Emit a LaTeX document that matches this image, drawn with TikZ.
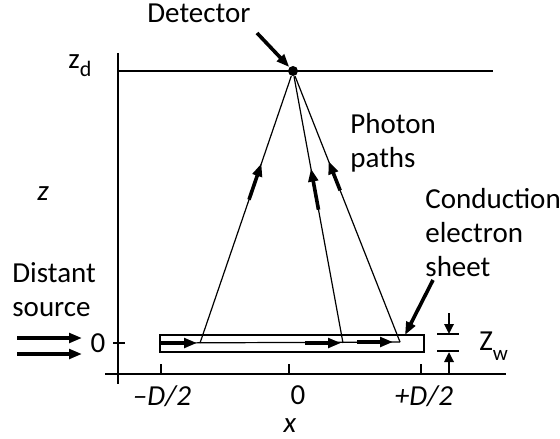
\documentclass[tikz,border=0pt]{standalone}
\usepackage{fontspec}
\setmainfont{Carlito}
\usepackage{tikz}
\usetikzlibrary{arrows.meta, positioning, calc}
\tikzset{
  axisline/.style={line width=0.7pt, color=black},
  rayline/.style={line width=0.6pt, color=black},
  fatarrow/.style={-{Triangle[length=6.5pt, width=4.8pt]}, line width=1.8pt},
  slimarrow/.style={-{Triangle[length=5pt, width=4.6pt]}, line width=1.4pt},
  txt/.style={font=\fontsize{14.5}{17}\selectfont, inner sep=0pt},
  mtxt/.style={txt, align=left, anchor=north west},
  detdot/.style={circle, fill=black, minimum size=5pt, inner sep=0pt}
}

\begin{document}
\begin{tikzpicture}[x=0.5pt, y=-0.5pt]
  \useasboundingbox (0,0) rectangle (560,438);

  % Axes and detector plane
  \coordinate (ztop) at (118,53);
  \coordinate (zbot) at (118,384);
  \coordinate (xleft) at (105,374);
  \coordinate (xright) at (506,374);
  \coordinate (planeR) at (493,71);
  \draw[axisline] (ztop) -- (zbot);
  \draw[axisline] (xleft) -- (xright);
  \node[detdot] (det) at (293,71) {};
  \draw[axisline] (118,71) -- (planeR);

  % Ticks
  \draw[axisline] (113,343) -- (125,343);
  \foreach \tx in {161,289,421}
    \draw[axisline] (\tx,364) -- (\tx,374);

  % Electron sheet
  \draw[axisline] (160,335) rectangle (424,352);
  \coordinate (sL) at (160,343);
  \coordinate (s1) at (200,343);
  \coordinate (s2) at (343,343);
  \coordinate (s3) at (400,342);
  \draw[rayline] (sL) -- (s3);
  \draw[fatarrow] (sL) -- ($(s1)+(-3,0)$);
  \draw[fatarrow] ($(s2)+(-38,0)$) -- ($(s2)+(-2,0)$);
  \draw[fatarrow] ($(s3)+(-43,0)$) -- ($(s3)+(-7,0)$);

  % Photon paths
  \foreach \s in {s1,s2,s3}
    \draw[rayline] (\s) -- (det);
  \path (det) -- (s1) coordinate[pos=0.327] (h1) coordinate[pos=0.463] (t1);
  \path (det) -- (s2) coordinate[pos=0.346] (h2) coordinate[pos=0.5] (t2);
  \path (det) -- (s3) coordinate[pos=0.32] (h3) coordinate[pos=0.43] (t3);
  \draw[fatarrow] (t1) -- (h1);
  \draw[fatarrow] (t2) -- (h2);
  \draw[fatarrow] (t3) -- (h3);

  % Pointers
  \coordinate (detptr) at (257,33);
  \draw[fatarrow] (detptr) -- (det);
  \coordinate (sheetptr) at (433,280);
  \coordinate (sheettip) at (405,335);
  \draw[fatarrow] (sheetptr) -- (sheettip);

  % Distant source
  \node[txt] (zero) at (98,343) {0};
  \draw[fatarrow] (17,338) -- (82,338);
  \draw[fatarrow] (17,354) -- (82,354);

  % Sheet thickness
  \draw[axisline] (437,334) -- (459,334);
  \draw[axisline] (437,351) -- (459,351);
  \coordinate (wtop) at (449,313);
  \coordinate (wbot) at (449,374);
  \draw[slimarrow] (wtop) -- (449,334);
  \draw[slimarrow] (wbot) -- (449,352);

  % Labels
  \node[txt, anchor=base west] (detlbl) at (147,23) {Detector};
  \node[txt, anchor=base west] (zdlbl) at (68,69) {z{\fontsize{11}{11}\selectfont\raisebox{-4pt}{d}}};
  \node[txt, anchor=base west] (zlbl) at (37,200) {\textit{z}};
  \node[mtxt] (photonlbl) at (350,113) {Photon\\paths};
  \node[mtxt] (sheetlbl) at (425,188) {Conduction\\electron\\sheet};
  \node[mtxt] (srclbl) at (12,262) {Distant\\source};
  \node[txt, anchor=base] (minuslbl) at (162,405) {\textit{–D/2}};
  \node[txt, anchor=base] (origlbl) at (298,404) {0};
  \node[txt, anchor=base] (pluslbl) at (424,405) {\textit{+D/2}};
  \node[txt, anchor=base] (xlbl) at (290,432) {\textit{x}};
  \node[txt, anchor=base west] (zwlbl) at (479,350) {Z{\fontsize{10.5}{10.5}\selectfont\raisebox{-5pt}{w}}};
\end{tikzpicture}
\end{document}
